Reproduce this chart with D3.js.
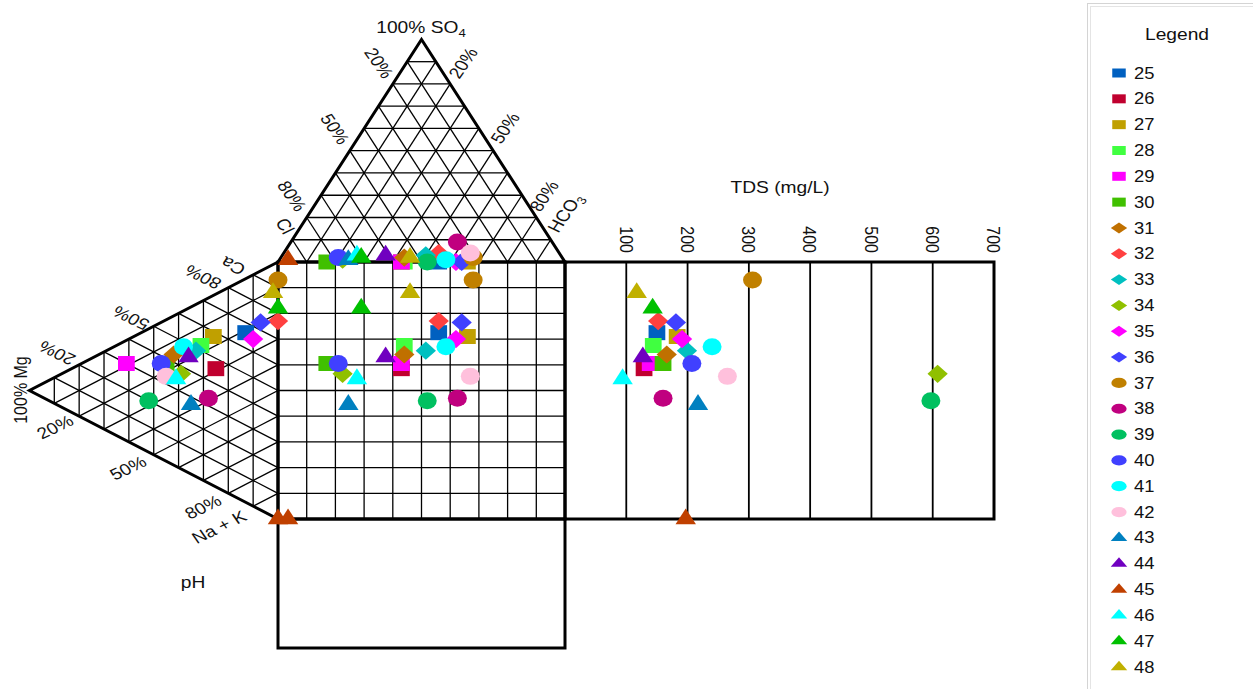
<!DOCTYPE html>
<html><head><meta charset="utf-8">
<script src="https://cdn.jsdelivr.net/npm/d3@7"></script>
<style>body{margin:0;background:#fff}text{font-family:"Liberation Sans",Arial,sans-serif;fill:#111}</style>
</head><body><svg id="c" width="1253" height="689"></svg>
<script>
// ---- data ----
const samples = ["25","26","27","28","29","30","31","32","33","34","35","36","37","38","39","40","41","42","43","44","45","46","47","48"];
const shapes  = ["square","square","square","square","square","square","diamond","diamond","diamond","diamond","diamond","diamond","circle","circle","circle","circle","circle","circle","triangle","triangle","triangle","triangle","triangle","triangle"];
const colors  = ["#0060c0","#c0002f","#c0a000","#40ff40","#ff00ff","#40c000","#c07000","#ff4040","#00c0c0","#90c000","#ff00ff","#4040ff","#c08000","#c0007f","#00c060","#4040ff","#00ffff","#ffc0dc","#0080c0","#7000c0","#c04000","#00ffff","#00c000","#c0b000"];
// cations (%)
const caPct   = [66,46,58,52,30,38,43,77,49,37,65,73,93,33,20,37,48,33,27,45,0,34,82,87];
const mgPct   = [13,25,26,31,61,45,42,0,33,39,10,7,0,28,52,47,38,45,35,36,0,41,0,2];
const nakPct  = [21,29,16,17,9,17,15,23,18,24,25,20,7,39,28,16,14,22,38,19,100,25,18,11];
// anions (%)
const clPct   = [44,57,34,56,57,83,55,42,47,77,38,36,31,33,48,78,41,31,75,61,96,71,70,53];
const so4Pct  = [0,0,0,0,0,0,2,4,3,1,0,0,2,9,0,2,1,4,1,3,1,3,2,2];
const hco3Pct = [56,43,66,44,43,17,43,54,50,22,62,64,67,58,52,20,58,65,24,36,3,26,28,45];
// TDS (mg/L)
const tds     = [150,129,183,144,139,160,166,152,199,608,191,181,306,160,597,207,240,265,217,127,197,94,143,117];
const tdsTicks = [100,200,300,400,500,600,700];

// ---- layout ----
const svg = d3.select("#c");
const x = d3.scaleLinear().domain([0,1]).range([278,565]);
const y = d3.scaleLinear().domain([0,1]).range([262,519]);
const xT = d3.scaleLinear().domain([0,700]).range([565,994]);
const H = Math.sqrt(3)/2;
const SX = (x(1)-x(0))/(y(1)-y(0));
const TS = 1.2; // horizontal text stretch

const an = (cl,so4,hco3)=>[hco3+so4/2, -H*so4];
const ca = (c,m,n)=>[-H*m, n+m/2];
const P = p=>[x(p[0]),y(p[1])];
const line = (a,b,w,g)=>{const A=P(a),B=P(b);(g||svg).append("line").attr("x1",A[0]).attr("y1",A[1]).attr("x2",B[0]).attr("y2",B[1]).attr("stroke","#000").attr("stroke-width",w||1.3);};

const grid = svg.append("g");
for(let i=1;i<10;i++){const f=i/10;
  line(an(1-f,f,0),an(0,f,1-f),1.3,grid);
  line(an(1-f,0,f),an(0,1-f,f),1.3,grid);
  line(an(f,0,1-f),an(f,1-f,0),1.3,grid);
  line(ca(1-f,0,f),ca(0,1-f,f),1.3,grid);
  line(ca(1-f,f,0),ca(0,f,1-f),1.3,grid);
  line(ca(f,0,1-f),ca(f,1-f,0),1.3,grid);
  line([f,0],[f,1],1.3,grid);
  line([0,f],[1,f],1.3,grid);
}
tdsTicks.slice(0,-1).forEach(t=>{svg.append("line").attr("x1",xT(t)).attr("x2",xT(t)).attr("y1",y(0)).attr("y2",y(1)).attr("stroke","#000").attr("stroke-width",1.8);});

const poly = (pts)=>svg.append("path").attr("d","M"+pts.map(p=>P(p).join(",")).join("L")+"Z").attr("fill","none").attr("stroke","#000").attr("stroke-width",3).attr("stroke-linejoin","miter");
poly([an(1,0,0),an(0,1,0),an(0,0,1)]);
poly([ca(1,0,0),ca(0,1,0),ca(0,0,1)]);
poly([[0,0],[1,0],[1,1],[0,1]]);
svg.append("rect").attr("x",xT(0)).attr("y",y(0)).attr("width",xT(700)-xT(0)).attr("height",y(1)-y(0)).attr("fill","none").attr("stroke","#000").attr("stroke-width",3);
svg.append("rect").attr("x",x(0)).attr("y",y(1)).attr("width",x(1)-x(0)).attr("height",129).attr("fill","none").attr("stroke","#000").attr("stroke-width",3);

// labels
const txt=(s,px,py,rot,anchor)=>svg.append("text").attr("transform",`translate(${px},${py}) scale(${TS},1) rotate(${rot||0})`).attr("text-anchor",anchor||"middle").attr("dy","0.35em").style("font-size","16px").text(s);
const t1 = svg.append("text").attr("transform",`translate(421,33) scale(${TS},1)`).attr("text-anchor","middle").style("font-size","16px");
t1.append("tspan").text("100% SO");
t1.append("tspan").attr("dy",4).style("font-size","11px").text("4");
txt("20%",379,63,60); txt("50%",335,129,60); txt("80%",292,196,60); txt("Cl",285,226,60);
txt("20%",463,63,-60); txt("50%",505,128,-60); txt("80%",544,196,-60);
const h = svg.append("text").attr("transform",`translate(565,213) scale(${TS},1) rotate(-60)`).attr("text-anchor","middle").attr("dy","0.35em").style("font-size","16px");
h.append("tspan").text("HCO"); h.append("tspan").attr("dy",4).style("font-size","11px").text("3");
txt("Ca",233,266,210); txt("80%",203,277,210); txt("50%",131,318,210); txt("20%",57,353,210);
txt("100% Mg",20,390,-90);
txt("20%",55,427,-30); txt("50%",128,468,-30); txt("80%",203,507,-30); txt("Na + K",219,527,-30);
txt("pH",193,582,0);
txt("TDS (mg/L)",780,187,0);
tdsTicks.forEach(t=>svg.append("text").attr("transform",`translate(${xT(t)},253) scale(${TS},1) rotate(90)`).attr("text-anchor","end").attr("dy","0.35em").style("font-size","16px").text(t));

// markers
function marker(g,shape,color,px,py,k,sx){
  let p;
  if(shape==="square") p=g.append("path").attr("d",d3.symbol(d3.symbolSquare,225*k)()).attr("transform",`translate(${px},${py}) scale(${sx},1)`);
  else if(shape==="diamond") p=g.append("path").attr("d",d3.symbol(d3.symbolSquare,165*k)()).attr("transform",`translate(${px},${py}) scale(${sx},1) rotate(45)`);
  else if(shape==="circle") p=g.append("path").attr("d",d3.symbol(d3.symbolCircle,227*k)()).attr("transform",`translate(${px},${py}) scale(${sx},1)`);
  else p=g.append("path").attr("d",d3.symbol(d3.symbolTriangle,145*k)()).attr("transform",`translate(${px},${py}) scale(${sx},1)`);
  p.attr("fill",color);
}
const mk = svg.append("g");
samples.forEach((s,i)=>{
  const a=an(clPct[i]/100,so4Pct[i]/100,hco3Pct[i]/100);
  const c=ca(caPct[i]/100,mgPct[i]/100,nakPct[i]/100);
  marker(mk,shapes[i],colors[i],x(a[0]),y(a[1]),1,SX);
  marker(mk,shapes[i],colors[i],x(c[0]),y(c[1]),1,SX);
  marker(mk,shapes[i],colors[i],x(a[0]),y(c[1]),1,SX);
  marker(mk,shapes[i],colors[i],xT(tds[i]),y(c[1]),1,SX);
});

// legend
svg.append("rect").attr("x",1087.5).attr("y",3.5).attr("width",180).attr("height",700).attr("fill","#fff").attr("stroke","#d4d4d4");
svg.append("rect").attr("x",1090.5).attr("y",6.5).attr("width",180).attr("height",700).attr("fill","none").attr("stroke","#e4e4e4");
svg.append("text").attr("transform",`translate(1177,34) scale(${TS},1)`).attr("text-anchor","middle").attr("dy","0.35em").style("font-size","16px").text("Legend");
const ly = d3.scaleLinear().domain([0,23]).range([73,667]);
const lg = svg.append("g");
samples.forEach((s,i)=>{
  marker(lg,shapes[i],colors[i],1119,ly(i),0.36,1.5);
  lg.append("text").attr("transform",`translate(1134,${ly(i)}) scale(1.15,1)`).attr("dy","0.35em").style("font-size","16px").text(s);
});
</script></body></html>
